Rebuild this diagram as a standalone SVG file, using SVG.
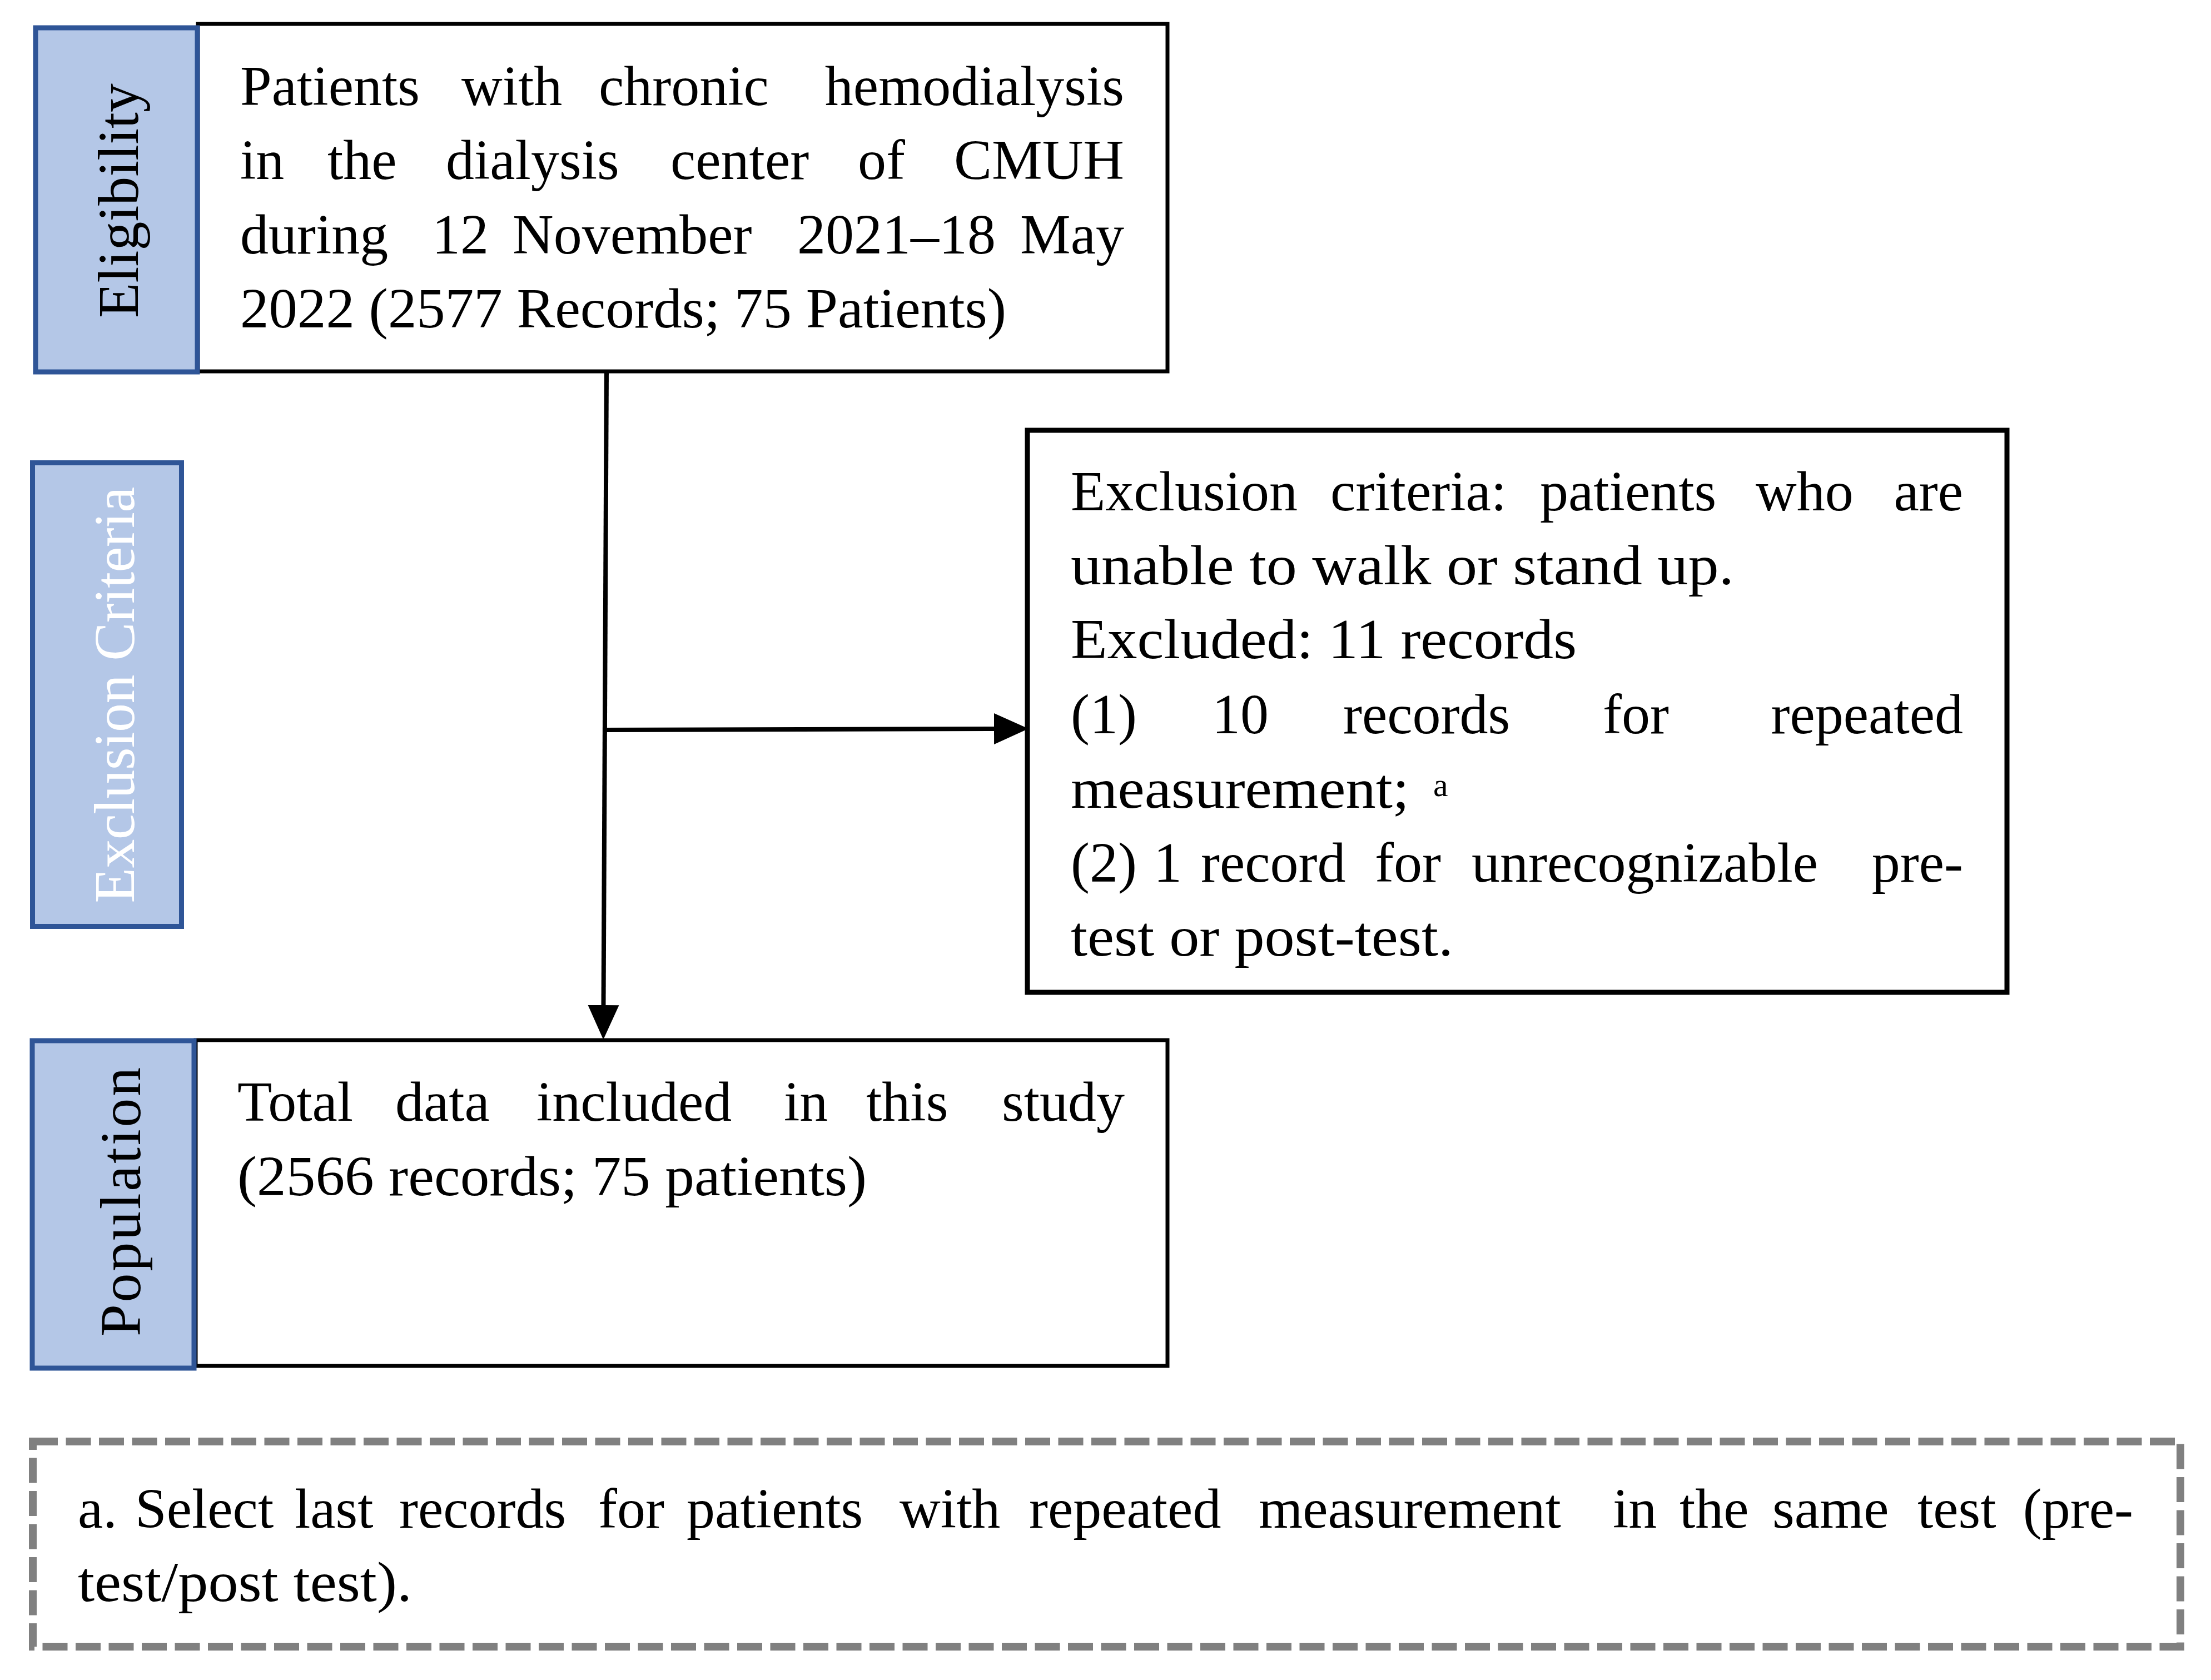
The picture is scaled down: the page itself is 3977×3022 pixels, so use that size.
<svg xmlns="http://www.w3.org/2000/svg" width="3977" height="3022" viewBox="0 0 3977 3022">
<style>
.box{fill:#ffffff;stroke:#000000;stroke-width:7}
.tab{fill:#B4C7E7;stroke:#2F5597;stroke-width:9}
.t{font-family:"Liberation Serif","Times New Roman",serif;font-size:102px;fill:#000000}
.lab{font-family:"Liberation Serif","Times New Roman",serif;font-size:104px;text-anchor:middle}
.conn{stroke:#000000;stroke-width:8;fill:none}
.end{text-anchor:end}
</style>
<defs>
<marker id="arr" markerUnits="userSpaceOnUse" markerWidth="62" markerHeight="58" viewBox="0 0 62 58" refX="0" refY="29" orient="auto">
<path d="M0,1 L62,29 L0,57 Z" fill="#000000"/>
</marker>
</defs>
<rect width="3977" height="3022" fill="#ffffff"/>

<g id="connectors">
<line class="conn" x1="1091" y1="668" x2="1085.5" y2="1808" marker-end="url(#arr)"/>
<line class="conn" x1="1088" y1="1313" x2="1788" y2="1311" marker-end="url(#arr)"/>
</g>

<g id="eligibility">
<rect class="box" x="356" y="43" width="1744" height="625"/>
<rect class="tab" x="64" y="50" width="291" height="619"/>
<text class="lab" transform="translate(248,361) rotate(-90)" textLength="422" lengthAdjust="spacing">Eligibility</text>
<text class="t" y="189"><tspan x="432">Patients</tspan><tspan x="830">with</tspan><tspan x="1077">chronic</tspan><tspan x="2022" class="end">hemodialysis</tspan></text>
<text class="t" y="322"><tspan x="432">in</tspan><tspan x="589">the</tspan><tspan x="802">dialysis</tspan><tspan x="1206">center</tspan><tspan x="1543">of</tspan><tspan x="2022" class="end">CMUH</tspan></text>
<text class="t" y="456"><tspan x="432">during</tspan><tspan x="777">12</tspan><tspan x="922">November</tspan><tspan x="1434">2021–18</tspan><tspan x="2022" class="end">May</tspan></text>
<text class="t" x="432" y="589" textLength="1378" lengthAdjust="spacingAndGlyphs">2022 (2577 Records; 75 Patients)</text>
</g>

<g id="exclusion-label">
<rect class="tab" x="58.5" y="832.5" width="268" height="834"/>
<text class="lab" fill="#ffffff" transform="translate(241,1250) rotate(-90)" textLength="749" lengthAdjust="spacing">Exclusion Criteria</text>
</g>

<g id="exclusion">
<rect class="box" x="1848" y="774" width="1762" height="1011" style="stroke-width:9"/>
<text class="t" y="918"><tspan x="1926">Exclusion</tspan><tspan x="2393">criteria:</tspan><tspan x="2770">patients</tspan><tspan x="3158">who</tspan><tspan x="3531" class="end">are</tspan></text>
<text class="t" x="1926" y="1051" textLength="1193" lengthAdjust="spacingAndGlyphs">unable to walk or stand up.</text>
<text class="t" x="1926" y="1184" textLength="910" lengthAdjust="spacingAndGlyphs">Excluded: 11 records</text>
<text class="t" y="1319"><tspan x="1926">(1)</tspan><tspan x="2180">10</tspan><tspan x="2416">records</tspan><tspan x="2883">for</tspan><tspan x="3531" class="end">repeated</tspan></text>
<text class="t" x="1926" y="1453" textLength="609" lengthAdjust="spacingAndGlyphs">measurement;</text>
<text class="t" x="2578" y="1432" style="font-size:60px">a</text>
<text class="t" y="1586"><tspan x="1926">(2)</tspan><tspan x="2075">1</tspan><tspan x="2160">record</tspan><tspan x="2473">for</tspan><tspan x="2647">unrecognizable</tspan><tspan x="3531" class="end">pre-</tspan></text>
<text class="t" x="1926" y="1719" textLength="688" lengthAdjust="spacingAndGlyphs">test or post-test.</text>
</g>

<g id="population">
<rect class="box" x="352" y="1871" width="1748" height="586"/>
<rect class="tab" x="58" y="1872" width="291" height="589"/>
<text class="lab" transform="translate(252,2162) rotate(-90)" textLength="484" lengthAdjust="spacing">Population</text>
<text class="t" y="2016"><tspan x="427">Total</tspan><tspan x="711">data</tspan><tspan x="965">included</tspan><tspan x="1410">in</tspan><tspan x="1558">this</tspan><tspan x="2023" class="end">study</tspan></text>
<text class="t" x="427" y="2150" textLength="1132" lengthAdjust="spacingAndGlyphs">(2566 records; 75 patients)</text>
</g>

<g id="footnote">
<rect x="59" y="2593" width="3863" height="369" fill="none" stroke="#808080" stroke-width="14" stroke-dasharray="45 14.5"/>
<text class="t" y="2748"><tspan x="140">a.</tspan><tspan x="243">Select</tspan><tspan x="530">last</tspan><tspan x="718">records</tspan><tspan x="1076">for</tspan><tspan x="1235">patients</tspan><tspan x="1618">with</tspan><tspan x="1851">repeated</tspan><tspan x="2264">measurement</tspan><tspan x="2901">in</tspan><tspan x="3021">the</tspan><tspan x="3188">same</tspan><tspan x="3449">test</tspan><tspan x="3837" class="end">(pre-</tspan></text>
<text class="t" x="140" y="2880" textLength="601" lengthAdjust="spacingAndGlyphs">test/post test).</text>
</g>
</svg>
